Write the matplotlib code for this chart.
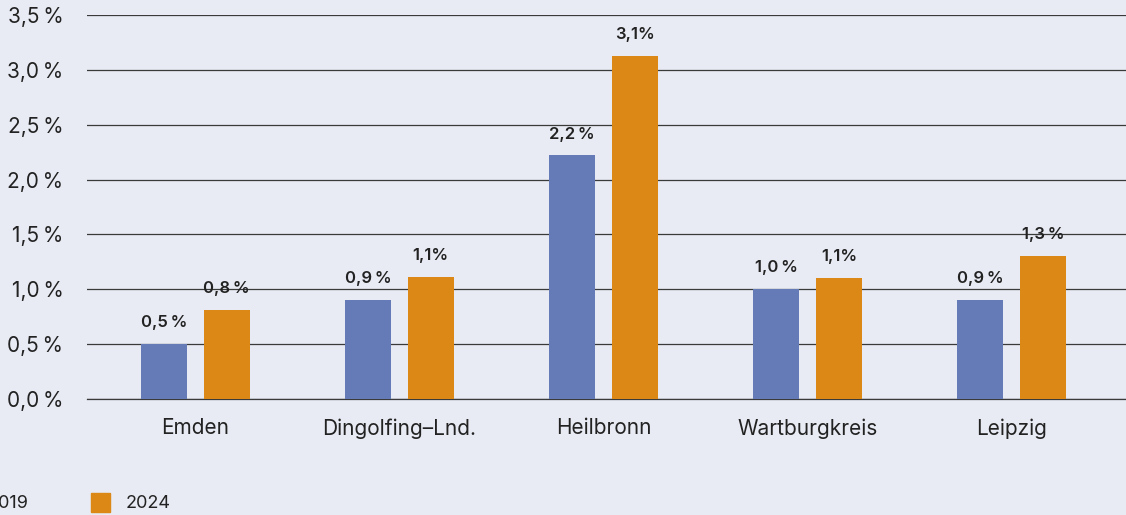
import matplotlib
matplotlib.use("Agg")
import matplotlib.pyplot as plt
import numpy as np

categories = ["Emden", "Dingolfing\u2013Lnd.", "Heilbronn", "Wartburgkreis", "Leipzig"]
series_names = ["2019", "2024"]
values_2019 = [0.5, 0.9, 2.22, 1.0, 0.9]
values_2024 = [0.81, 1.11, 3.13, 1.1, 1.3]
labels_2019 = ["0,5\u2009%", "0,9\u2009%", "2,2\u2009%", "1,0\u2009%", "0,9\u2009%"]
labels_2024 = ["0,8\u2009%", "1,1%", "3,1%", "1,1%", "1,3\u2009%"]
yticks = [0.0, 0.5, 1.0, 1.5, 2.0, 2.5, 3.0, 3.5]
ytick_labels = ["0,0\u2009%", "0,5\u2009%", "1,0\u2009%", "1,5\u2009%", "2,0\u2009%", "2,5\u2009%", "3,0\u2009%", "3,5\u2009%"]

BG = "#E8EBF4"
BLUE = "#647BB8"
ORANGE = "#DB8816"
TXT = "#222222"
GRID = "#3a3a3a"
plt.rcParams['font.family'] = ['Inter', 'DejaVu Sans']

W, H = 1126, 515
fig = plt.figure(figsize=(W / 100, H / 100), dpi=100, facecolor=BG)
ax = fig.add_axes([87 / W, 1 - 399 / H, (W - 87) / W, (399 - 15) / H], facecolor=BG)

x = np.arange(len(categories))
bw = 0.225
off = 0.154
b1 = ax.bar(x - off, values_2019, bw, color=BLUE, zorder=3)
b2 = ax.bar(x + off, values_2024, bw, color=ORANGE, zorder=3)

for rects, labs in ((b1, labels_2019), (b2, labels_2024)):
    for r, lab in zip(rects, labs):
        ax.annotate(lab, (r.get_x() + r.get_width() / 2, r.get_height()),
                    xytext=(0, 10), textcoords="offset points", ha="center", va="bottom",
                    fontsize=12, fontweight="semibold", color=TXT)

ax.set_ylim(0, 3.5)
ax.set_xlim(-0.53, 4.56)
ax.set_yticks(yticks)
ax.set_yticklabels(ytick_labels, fontsize=15, color=TXT)
ax.set_xticks(x)
ax.set_xticklabels(categories, fontsize=15, color=TXT)
ax.tick_params(axis="y", length=0, pad=17)
ax.tick_params(axis="x", length=0, pad=14)
ax.yaxis.grid(True, color=GRID, linewidth=0.9, zorder=0)
ax.axhline(0, color=GRID, linewidth=0.9, zorder=0, clip_on=False)
ax.set_axisbelow(True)
for s in ax.spines.values():
    s.set_visible(False)

# legend (cropped at left edge as in reference)
fig.patches.append(plt.Rectangle((-55 / W, 1 - 512 / H), 19 / W, 19 / H,
                                 transform=fig.transFigure, color=BLUE, clip_on=False))
fig.text(-12 / W, 1 - 503 / H, series_names[0], fontsize=13, color=TXT, va="center", ha="left")
fig.patches.append(plt.Rectangle((91 / W, 1 - 512 / H), 19 / W, 19 / H,
                                 transform=fig.transFigure, color=ORANGE))
fig.text(126 / W, 1 - 503 / H, series_names[1], fontsize=13, color=TXT, va="center", ha="left")

fig.savefig("out.png", dpi=100, facecolor=BG)
